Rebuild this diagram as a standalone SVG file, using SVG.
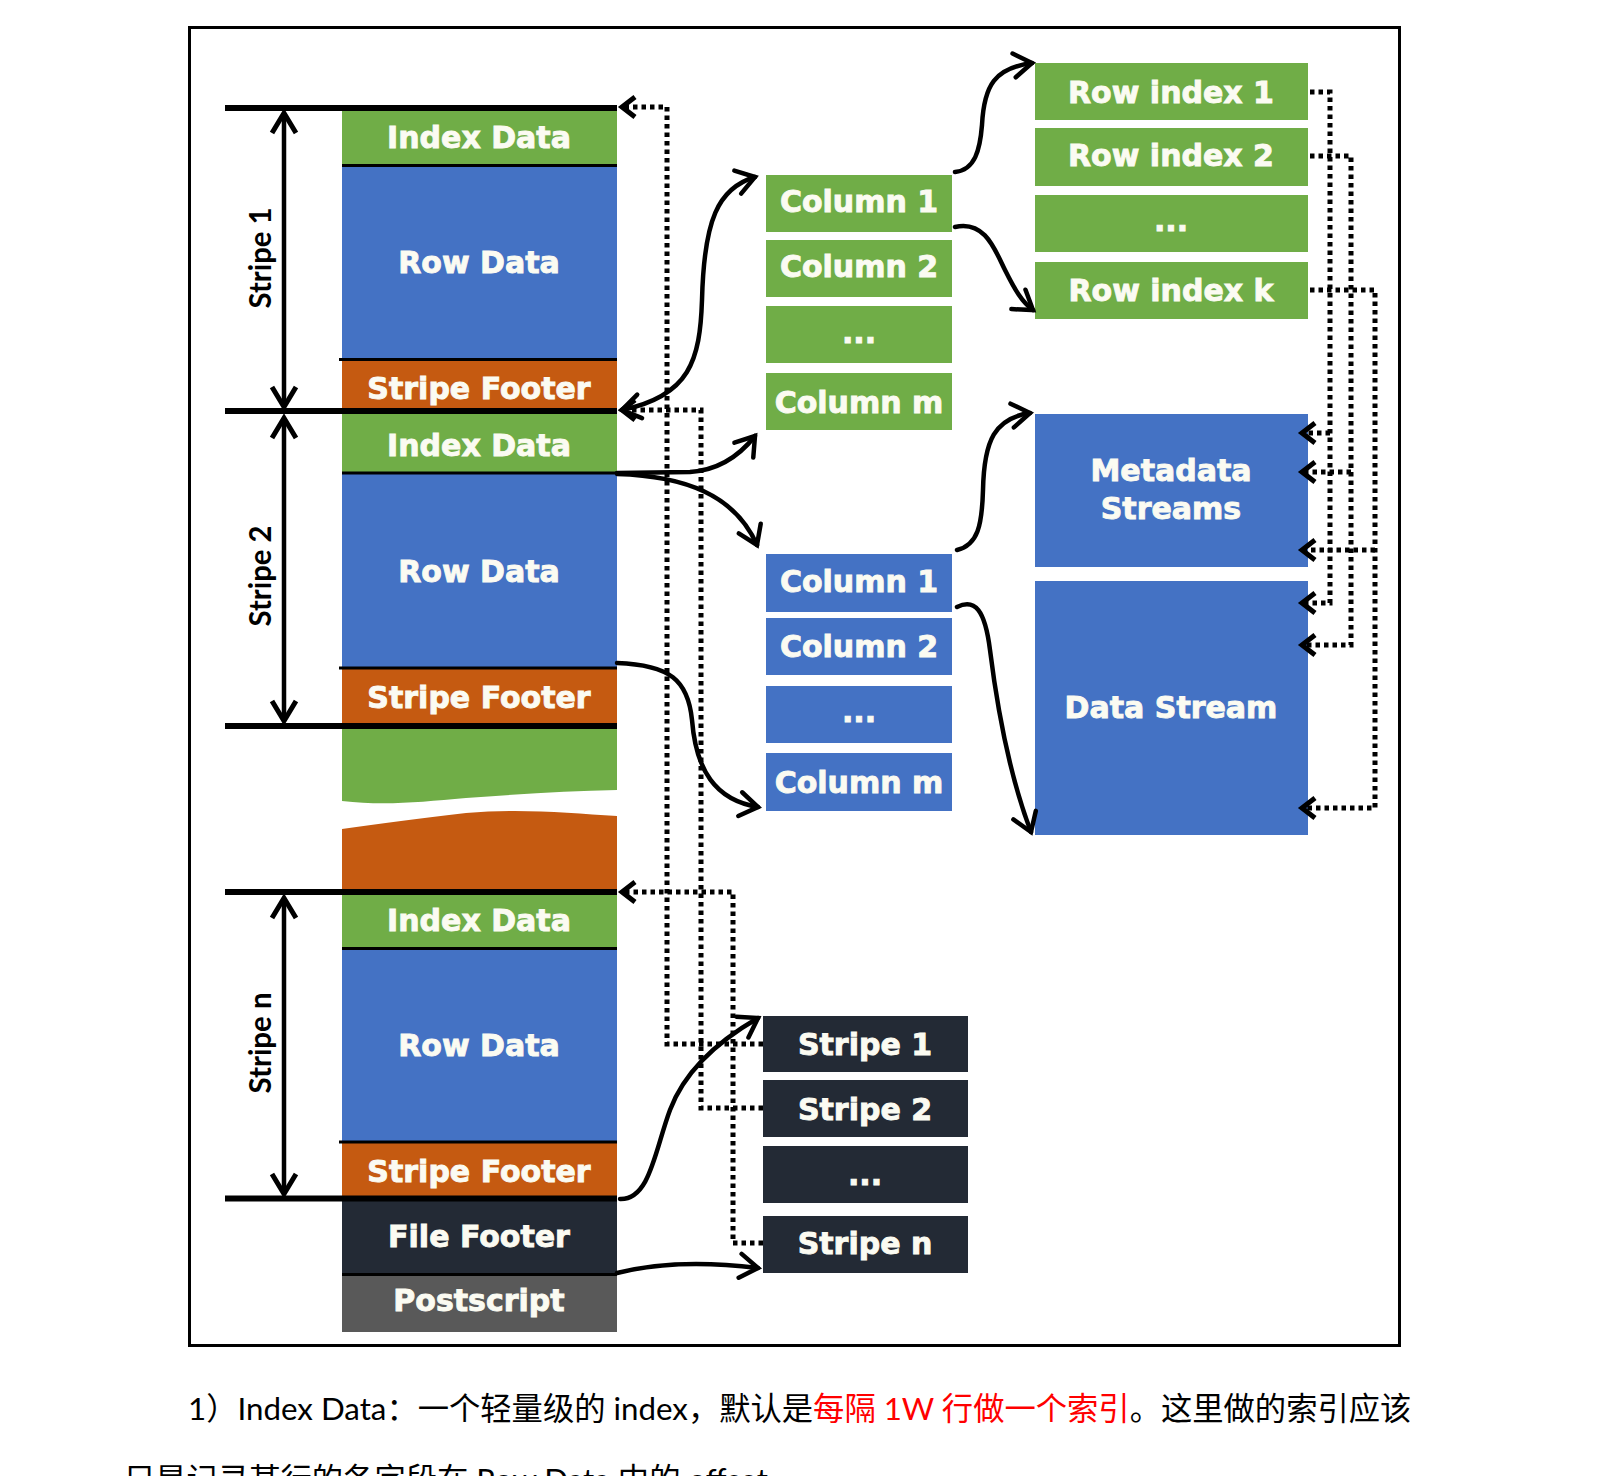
<svg xmlns="http://www.w3.org/2000/svg" width="1620" height="1476" viewBox="0 0 1620 1476">
<style>
.lbl{font-family:"DejaVu Sans",Verdana,sans-serif;font-weight:bold;font-size:30px;fill:#fbfbf2;stroke:#fbfbf2;stroke-width:0.9;text-anchor:middle}
.side{font-family:Lato,"Liberation Sans",sans-serif;font-weight:bold;font-size:30px;fill:#000;text-anchor:middle}
.cap{font-family:Lato,"Noto Sans CJK SC",sans-serif;font-size:31.3px;fill:#000}
.g{fill:#70ad47}.b{fill:#4472c4}.o{fill:#c55a11}.d{fill:#232a35}.p{fill:#595959}
.thick{stroke:#000;stroke-width:6;fill:none}
.thin{stroke:#000;stroke-width:3;fill:none}
.solid{stroke:#000;stroke-width:4.5;fill:none;stroke-linecap:round}
.dot{stroke:#000;stroke-width:5;fill:none;stroke-dasharray:4.5 4}
.dim{stroke:#000;stroke-width:4.5;fill:none}
</style>
<defs>
<marker id="ah" markerUnits="userSpaceOnUse" markerWidth="40" markerHeight="40" viewBox="-30 -20 40 40" refX="0" refY="0" orient="auto-start-reverse" overflow="visible">
<path d="M -18 -12 L 0 0 L -18 12" fill="none" stroke="#000" stroke-width="4.5" stroke-linecap="round"/>
</marker>
<marker id="dh" markerUnits="userSpaceOnUse" markerWidth="40" markerHeight="40" viewBox="-30 -20 40 40" refX="0" refY="0" orient="auto-start-reverse" overflow="visible">
<path d="M -13 -10 L 0 0 L -13 10" fill="none" stroke="#000" stroke-width="5"/>
</marker>
<marker id="mh" markerUnits="userSpaceOnUse" markerWidth="40" markerHeight="40" viewBox="-30 -20 40 40" refX="0" refY="0" orient="auto-start-reverse" overflow="visible">
<path d="M -20 -12 L 0 0 L -20 12" fill="none" stroke="#000" stroke-width="5"/>
</marker>
</defs>
<rect x="0" y="0" width="1620" height="1476" fill="#fff"/>
<rect x="189.5" y="27.5" width="1210" height="1318" fill="none" stroke="#000" stroke-width="3"/>

<!-- Left column -->
<g id="stripe1-index"><rect class="g" x="342" y="110" width="275" height="55"/><text class="lbl" x="479" y="148">Index Data</text></g>
<g id="stripe1-row"><rect class="b" x="342" y="165" width="275" height="194"/><text class="lbl" x="479" y="273">Row Data</text></g>
<g id="stripe1-footer"><rect class="o" x="342" y="359" width="275" height="52"/><text class="lbl" x="479" y="399">Stripe Footer</text></g>
<g id="stripe2-index"><rect class="g" x="342" y="411" width="275" height="62"/><text class="lbl" x="479" y="456">Index Data</text></g>
<g id="stripe2-row"><rect class="b" x="342" y="473" width="275" height="195"/><text class="lbl" x="479" y="582">Row Data</text></g>
<g id="stripe2-footer"><rect class="o" x="342" y="668" width="275" height="58"/><text class="lbl" x="479" y="708">Stripe Footer</text></g>
<g id="break-green"><path class="g" d="M 342 726 H 617 V 790 C 570 791 520 794 466 798 C 420 802 385 806 342 801 Z"/></g>
<g id="break-orange"><path class="o" d="M 342 829 C 380 824 420 818 466 813 C 520 808 570 813 617 816 V 892 H 342 Z"/></g>
<g id="striden-index"><rect class="g" x="342" y="892" width="275" height="57"/><text class="lbl" x="479" y="931">Index Data</text></g>
<g id="striden-row"><rect class="b" x="342" y="949" width="275" height="193"/><text class="lbl" x="479" y="1056">Row Data</text></g>
<g id="striden-footer"><rect class="o" x="342" y="1142" width="275" height="57"/><text class="lbl" x="479" y="1182">Stripe Footer</text></g>
<g id="file-footer"><rect class="d" x="342" y="1199" width="275" height="76"/><text class="lbl" x="479" y="1247">File Footer</text></g>
<g id="postscript"><rect class="p" x="342" y="1275" width="275" height="57"/><text class="lbl" x="479" y="1311">Postscript</text></g>

<g id="separators">
<line class="thin" x1="342" y1="165.5" x2="617" y2="165.5"/>
<line class="thin" x1="339" y1="359.5" x2="617" y2="359.5"/>
<line class="thin" x1="342" y1="473" x2="617" y2="473"/>
<line class="thin" x1="339" y1="668" x2="617" y2="668"/>
<line class="thin" x1="342" y1="948.5" x2="617" y2="948.5"/>
<line class="thin" x1="339" y1="1142" x2="617" y2="1142"/>
<line class="thin" x1="342" y1="1274.5" x2="617" y2="1274.5"/>
<line class="thick" x1="225" y1="108" x2="617" y2="108"/>
<line class="thick" x1="225" y1="411" x2="617" y2="411"/>
<line class="thick" x1="225" y1="726" x2="617" y2="726"/>
<line class="thick" x1="225" y1="892" x2="617" y2="892"/>
<line class="thick" x1="225" y1="1198.5" x2="617" y2="1198.5"/>
</g>

<g id="stripe1-span"><line class="dim" x1="284" y1="113" x2="284" y2="407" marker-start="url(#mh)" marker-end="url(#mh)"/><text class="side" x="271" y="258" transform="rotate(-90 271 258)" textLength="101" lengthAdjust="spacingAndGlyphs">Stripe 1</text></g>
<g id="stripe2-span"><line class="dim" x1="284" y1="418" x2="284" y2="721" marker-start="url(#mh)" marker-end="url(#mh)"/><text class="side" x="271" y="576" transform="rotate(-90 271 576)" textLength="101" lengthAdjust="spacingAndGlyphs">Stripe 2</text></g>
<g id="striden-span"><line class="dim" x1="284" y1="898" x2="284" y2="1194" marker-start="url(#mh)" marker-end="url(#mh)"/><text class="side" x="271" y="1043" transform="rotate(-90 271 1043)" textLength="101" lengthAdjust="spacingAndGlyphs">Stripe n</text></g>

<!-- Middle column: index columns -->
<g id="icol1"><rect class="g" x="766" y="175" width="186" height="57"/><text class="lbl" x="859" y="212">Column 1</text></g>
<g id="icol2"><rect class="g" x="766" y="240" width="186" height="57"/><text class="lbl" x="859" y="277">Column 2</text></g>
<g id="icoldots"><rect class="g" x="766" y="306" width="186" height="57"/><text class="lbl" x="859" y="343">...</text></g>
<g id="icolm"><rect class="g" x="766" y="373" width="186" height="57"/><text class="lbl" x="859" y="413">Column m</text></g>

<g id="dcol1"><rect class="b" x="766" y="554" width="186" height="58"/><text class="lbl" x="859" y="592">Column 1</text></g>
<g id="dcol2"><rect class="b" x="766" y="618" width="186" height="57"/><text class="lbl" x="859" y="657">Column 2</text></g>
<g id="dcoldots"><rect class="b" x="766" y="686" width="186" height="57"/><text class="lbl" x="859" y="722">...</text></g>
<g id="dcolm"><rect class="b" x="766" y="753" width="186" height="58"/><text class="lbl" x="859" y="793">Column m</text></g>

<!-- Right column -->
<g id="rowindex1"><rect class="g" x="1035" y="63" width="273" height="57"/><text class="lbl" x="1171" y="103">Row index 1</text></g>
<g id="rowindex2"><rect class="g" x="1035" y="128" width="273" height="58"/><text class="lbl" x="1171" y="166">Row index 2</text></g>
<g id="rowindexdots"><rect class="g" x="1035" y="195" width="273" height="57"/><text class="lbl" x="1171" y="231">...</text></g>
<g id="rowindexk"><rect class="g" x="1035" y="262" width="273" height="57"/><text class="lbl" x="1171" y="301">Row index k</text></g>
<g id="metadata"><rect class="b" x="1035" y="414" width="273" height="153"/><text class="lbl" x="1171" y="481">Metadata</text><text class="lbl" x="1171" y="519">Streams</text></g>
<g id="datastream"><rect class="b" x="1035" y="581" width="273" height="254"/><text class="lbl" x="1171" y="718">Data Stream</text></g>

<!-- Bottom: stripe list -->
<g id="list-stripe1"><rect class="d" x="763" y="1016" width="205" height="56"/><text class="lbl" x="865" y="1055">Stripe 1</text></g>
<g id="list-stripe2"><rect class="d" x="763" y="1080" width="205" height="57"/><text class="lbl" x="865" y="1120">Stripe 2</text></g>
<g id="list-dots"><rect class="d" x="763" y="1146" width="205" height="57"/><text class="lbl" x="865" y="1185">...</text></g>
<g id="list-striden"><rect class="d" x="763" y="1216" width="205" height="57"/><text class="lbl" x="865" y="1254">Stripe n</text></g>

<g id="connectors">
<path class="solid" d="M 622 410 C 690 396 700 360 702 300 C 704 220 718 188 755 177" marker-start="url(#ah)" marker-end="url(#ah)"/>
<path class="solid" d="M 955 172 C 975 170 980 150 982 125 C 984 85 995 68 1032 63" marker-end="url(#ah)"/>
<path class="solid" d="M 955 227 C 985 220 995 250 1005 270 C 1015 290 1022 302 1033 310" marker-end="url(#ah)"/>
<path class="solid" d="M 617 473 L 690 472 C 720 470 740 455 755 436" marker-end="url(#ah)"/>
<path class="solid" d="M 617 474 C 685 476 735 495 757 545" marker-end="url(#ah)"/>
<path class="solid" d="M 617 663 C 670 665 688 680 692 720 C 696 770 715 800 758 807" marker-end="url(#ah)"/>
<path class="solid" d="M 957 550 C 978 545 982 525 983 490 C 984 440 995 418 1030 413" marker-end="url(#ah)"/>
<path class="solid" d="M 957 607 C 975 598 985 610 990 650 C 1000 730 1015 790 1031 832" marker-end="url(#ah)"/>
<path class="solid" d="M 620 1199 C 650 1200 655 1150 670 1110 C 685 1070 720 1040 758 1018" marker-end="url(#ah)"/>
<path class="solid" d="M 617 1273 C 660 1262 710 1262 758 1268" marker-end="url(#ah)"/>

<path class="dot" d="M 763 1044 H 667 V 107 H 622" marker-end="url(#dh)"/>
<path class="dot" d="M 763 1108 H 701 V 410 H 622" marker-end="url(#dh)"/>
<path class="dot" d="M 763 1243 H 733 V 892 H 622" marker-end="url(#dh)"/>

<path class="dot" d="M 1310 92 H 1330 V 603 H 1302" marker-end="url(#dh)"/>
<path class="dot" d="M 1330 433 H 1302" marker-end="url(#dh)"/>
<path class="dot" d="M 1310 156 H 1351 V 645 H 1302" marker-end="url(#dh)"/>
<path class="dot" d="M 1351 472 H 1302" marker-end="url(#dh)"/>
<path class="dot" d="M 1310 290 H 1375 V 808 H 1302" marker-end="url(#dh)"/>
<path class="dot" d="M 1375 550 H 1302" marker-end="url(#dh)"/>
</g>

<g id="caption">
<text class="cap" x="188" y="1420">1）Index Data：一个轻量级的 index，默认是<tspan fill="#ff0000">每隔 1W 行做一个索引</tspan>。这里做的索引应该</text>
<text class="cap" x="124" y="1491">只是记录某行的各字段在 Row Data 中的 offset</text>
</g>
</svg>
